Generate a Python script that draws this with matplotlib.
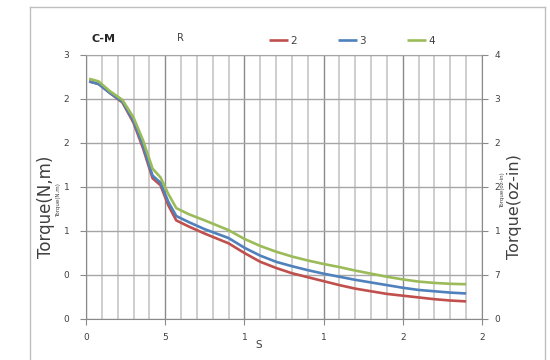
"""
Torque vs speed curves (C-M), three drive settings
"""

import numpy as np
import matplotlib
matplotlib.use('Agg')
import matplotlib.pyplot as plt
from matplotlib.lines import Line2D

matplotlib.rcParams['font.family'] = 'DejaVu Sans'

# ============================================================================
# DATA
# ============================================================================

speed = [0.2, 0.8, 1.5, 2.3, 3.0, 3.6, 4.2, 4.7, 5.2, 5.7, 6.5, 7.5, 9, 10,
         11, 12, 13, 14, 15, 16, 17, 18, 19, 20, 21, 22, 23, 24]

torque_2 = [2.70, 2.67, 2.57, 2.46, 2.23, 1.94, 1.60, 1.52, 1.29, 1.12, 1.05,
            0.97, 0.86, 0.75, 0.65, 0.58, 0.52, 0.475, 0.43, 0.385, 0.345,
            0.315, 0.285, 0.265, 0.245, 0.225, 0.21, 0.20]
torque_3 = [2.70, 2.67, 2.57, 2.47, 2.25, 1.97, 1.63, 1.55, 1.33, 1.17, 1.10,
            1.02, 0.92, 0.81, 0.72, 0.65, 0.60, 0.555, 0.515, 0.48, 0.445,
            0.415, 0.385, 0.355, 0.33, 0.315, 0.30, 0.29]
torque_4 = [2.73, 2.70, 2.59, 2.49, 2.29, 2.03, 1.71, 1.61, 1.42, 1.26, 1.19,
            1.12, 1.01, 0.91, 0.83, 0.765, 0.71, 0.665, 0.625, 0.59, 0.55,
            0.515, 0.48, 0.45, 0.425, 0.41, 0.40, 0.395]

series_names = ['2', '3', '4']

x_ticks = [0, 5, 10, 15, 20, 25]
x_ticklabels = ['0', '5', '1', '1', '2', '2']
y_ticks = [0, 0.5, 1, 1.5, 2, 2.5, 3]
y_left_labels = ['0', '0', '1', '1', '2', '2', '3']
y_right_labels = ['0', '7', '1', '2', '2', '3', '4']

# ============================================================================
# STYLE
# ============================================================================

colors = ['#C0504D', '#4F81BD', '#9BBB59']
lw = 1.9
tick_fs = 6.5
txt_col = '#404040'
minor_grid = '#C6C6C6'
major_grid = '#8A8A8A'
hgrid = '#A6A6A6'

fig = plt.figure(figsize=(5.5, 3.6), dpi=100)
ax = fig.add_axes([86/550, 41/360, 396/550, 264/360])

# outer chart frame (bottom edge is cut off by the image)
for xs, ys in [([30/550, 30/550], [-0.1, 1-7/360]),
               ([30/550, 545/550], [1-7/360, 1-7/360]),
               ([545/550, 545/550], [1-7/360, -0.1])]:
    fig.add_artist(Line2D(xs, ys, color='#BFBFBF', lw=1.0,
                          transform=fig.transFigure))

# ============================================================================
# PLOT DATA
# ============================================================================

lines = []
for y, c, name in zip([torque_2, torque_3, torque_4], colors, series_names):
    ln, = ax.plot(speed, y, color=c, lw=lw, label=name,
                  solid_capstyle='butt', solid_joinstyle='round', zorder=3)
    lines.append(ln)

# ============================================================================
# AXES, GRID, TICKS
# ============================================================================

ax.set_xlim(0, 25)
ax.set_ylim(0, 3)
ax.set_xticks(x_ticks)
ax.set_xticklabels(x_ticklabels)
ax.set_xticks(np.arange(0, 26, 1), minor=True)
ax.set_yticks(y_ticks)
ax.set_yticklabels(y_left_labels)

ax.grid(True, which='minor', axis='x', color=minor_grid, lw=1.2, zorder=0)
ax.grid(True, which='major', axis='x', color=major_grid, lw=1.0, zorder=1)
ax.grid(True, which='major', axis='y', color=hgrid, lw=1.0, zorder=1)
ax.set_axisbelow(True)

ax.tick_params(which='major', direction='out', length=4, width=0.8,
               colors=major_grid, labelcolor=txt_col, labelsize=tick_fs)
ax.tick_params(axis='y', pad=8)
ax.tick_params(axis='x', pad=6)
ax.tick_params(which='minor', length=0)

for s in ['left', 'bottom', 'right']:
    ax.spines[s].set_color(major_grid)
ax.spines['top'].set_color(hgrid)

ax2 = ax.twinx()
ax2.set_ylim(0, 3)
ax2.set_yticks(y_ticks)
ax2.set_yticklabels(y_right_labels)
ax2.tick_params(direction='out', length=4, width=0.8, colors=major_grid,
                labelcolor=txt_col, labelsize=tick_fs, pad=5)
for s in ax2.spines.values():
    s.set_visible(False)

# ============================================================================
# LABELS AND TEXT
# ============================================================================

fig.text(259/550, 1-345/360, 'S', fontsize=7.5, color=txt_col,
         ha='center', va='center')
fig.text(46/550, 1-207/360, 'Torque(N,m)', fontsize=12, color=txt_col,
         rotation=90, ha='center', va='center')
fig.text(58.5/550, 1-200/360, 'Torque(N.m)', fontsize=4, color=txt_col,
         rotation=90, ha='center', va='center')
fig.text(515/550, 1-207/360, 'Torque(oz-in)', fontsize=11.5, color=txt_col,
         rotation=90, ha='center', va='center')
fig.text(502.5/550, 1-190/360, 'Torque(oz-in)', fontsize=4, color=txt_col,
         rotation=90, ha='center', va='center')

fig.text(104/550, 1-39/360, 'C-M', fontsize=8, fontweight='bold',
         color='#262626', ha='center', va='center')
fig.text(180/550, 1-38/360, 'R', fontsize=7, color=txt_col,
         ha='center', va='center')

# ============================================================================
# LEGEND
# ============================================================================

fig.legend(handles=lines, labels=series_names, ncol=3, frameon=False,
           loc='center left', bbox_to_anchor=(269/550, 1-41/360),
           fontsize=7.5, handlelength=1.8, handletextpad=0.2,
           columnspacing=4.0, borderpad=0, borderaxespad=0,
           labelcolor=txt_col)

plt.savefig('out.png', dpi=100)
